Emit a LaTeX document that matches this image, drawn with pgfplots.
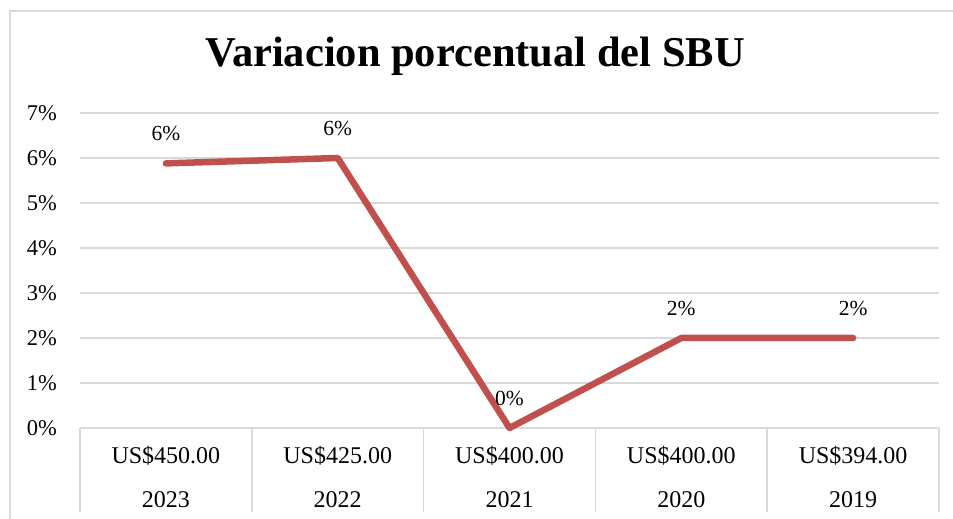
\documentclass[border=0pt]{standalone}
\usepackage{fontspec}
\setmainfont{Liberation Serif}
\usepackage{pgfplots}
\pgfplotsset{compat=1.18}
\definecolor{serie}{HTML}{C0504D}
\definecolor{gridc}{HTML}{D9D9D9}
\begin{document}
\begin{tikzpicture}[x=1bp,y=1bp]
\useasboundingbox (0,0) rectangle (953,519);
\draw[gridc, line width=1.5bp] (10,0) -- (10,508) -- (953,508);
\node[font=\fontsize{42.5bp}{48bp}\bfseries\selectfont, anchor=base, inner sep=0] at (475,452) {Variacion porcentual del SBU};
\begin{axis}[
  at={(80bp,91bp)}, anchor=south west, scale only axis,
  width=859bp, height=315bp,
  xmin=-0.5, xmax=4.5, ymin=0, ymax=7,
  clip=false,
  axis x line*=bottom, axis y line*=left,
  x axis line style={draw=gridc, line width=1.5bp},
  y axis line style={draw=none},
  ytick={0,1,2,3,4,5,6,7},
  yticklabels={0\%,1\%,2\%,3\%,4\%,5\%,6\%,7\%},
  ytick style={draw=none},
  ymajorgrids,
  grid style={draw=gridc, line width=1.5bp},
  yticklabel style={font=\fontsize{22.5bp}{26bp}\selectfont, anchor=east, inner sep=0pt, xshift=-23bp},
  xtick={0,1,2,3,4},
  xticklabels={{US\$450.00\\2023},{US\$425.00\\2022},{US\$400.00\\2021},{US\$400.00\\2020},{US\$394.00\\2019}},
  xticklabel style={font=\fontsize{24bp}{44bp}\selectfont, align=center, anchor=north, inner sep=0pt, yshift=-18bp},
  major tick length=0pt,
  minor xtick={-0.5,0.5,1.5,2.5,3.5,4.5},
  minor tick length=84bp,
  tick align=outside,
  every minor tick/.append style={draw=gridc, line width=1.5bp},
]
\addplot[serie, line width=6.5bp, line cap=round, line join=round,
  nodes near coords, point meta=explicit symbolic,
  every node near coord/.style={font=\fontsize{21.5bp}{25bp}\selectfont, color=black, anchor=center, yshift=30bp}]
  coordinates {(0,5.88)[6\%] (1,6.0)[6\%] (2,0)[0\%] (3,2.0)[2\%] (4,2.0)[2\%]};
\end{axis}
\end{tikzpicture}
\end{document}
